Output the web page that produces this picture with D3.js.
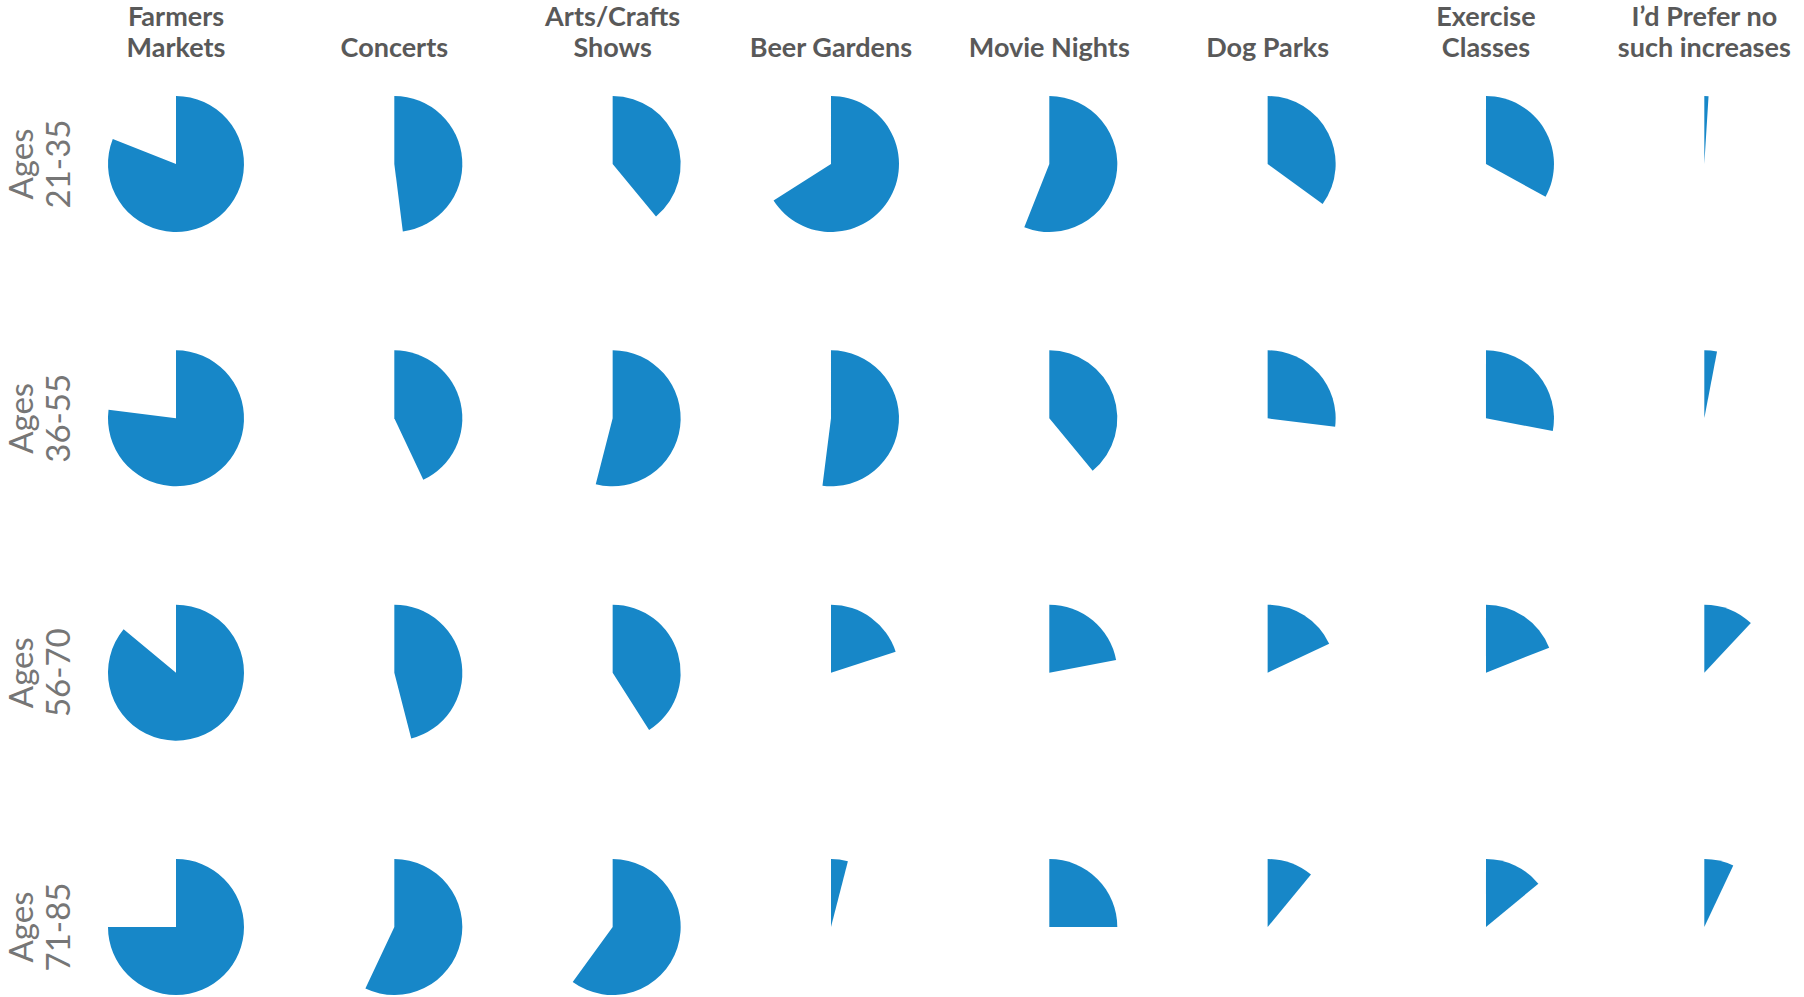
<!DOCTYPE html>
<html>
<head>
<meta charset="utf-8">
<script src="https://cdn.jsdelivr.net/npm/d3@7"></script>
<style>
  html, body { margin: 0; padding: 0; background: #ffffff; }
  svg { display: block; }
</style>
</head>
<body>
<svg id="chart" width="1804" height="997"></svg>
<script>
// Column categories (header lines)
const categories = [
  ["Farmers", "Markets"],
  ["Concerts"],
  ["Arts/Crafts", "Shows"],
  ["Beer Gardens"],
  ["Movie Nights"],
  ["Dog Parks"],
  ["Exercise", "Classes"],
  ["I\u2019d Prefer no", "such increases"]
];
// Row categories
const ageGroups = [["Ages", "21-35"], ["Ages", "36-55"], ["Ages", "56-70"], ["Ages", "71-85"]];
// Percent values per age group (one per category)
const ages21_35 = [81, 48, 39, 66, 56, 35, 33, 1];
const ages36_55 = [77, 43, 54, 52, 39, 27, 28, 3];
const ages56_70 = [86, 46, 41, 20, 22, 18, 19, 12];
const ages71_85 = [75, 57, 60, 4, 25, 11, 14, 7];
const seriesValues = [ages21_35, ages36_55, ages56_70, ages71_85];

const svg = d3.select("#chart");
const colKeys = categories.map((c, i) => i);
const rowKeys = ageGroups.map((r, i) => i);

const x = d3.scalePoint().domain(colKeys).range([176, 1704.3]);
const y = d3.scalePoint().domain(rowKeys).range([164, 927]);
const angle = d3.scaleLinear().domain([0, 100]).range([0, 2 * Math.PI]);
const radius = 68;
const arc = d3.arc().innerRadius(0).outerRadius(radius);

// Column headers
const headers = svg.append("g")
  .attr("font-family", "Lato, 'Open Sans', sans-serif")
  .attr("font-weight", 700)
  .attr("font-size", 27)
  .attr("fill", "#595959")
  .attr("text-anchor", "middle");
categories.forEach((lines, i) => {
  const t = headers.append("text").attr("x", x(i));
  const baseLast = 57.3;
  const lh = 31.3;
  lines.forEach((ln, j) => {
    t.append("tspan")
      .attr("x", x(i))
      .attr("y", baseLast - (lines.length - 1 - j) * lh)
      .text(ln);
  });
});

// Row labels (rotated)
const rowLabels = svg.append("g")
  .attr("font-family", "Lato, 'Open Sans', sans-serif")
  .attr("font-weight", 400)
  .attr("font-size", 33)
  .attr("fill", "#767676")
  .attr("text-anchor", "middle");
ageGroups.forEach((lines, i) => {
  const t = rowLabels.append("text")
    .attr("transform", `translate(0,${y(i)}) rotate(-90)`);
  lines.forEach((ln, j) => {
    t.append("tspan").attr("x", 0).attr("y", 32.5 + j * 37).text(ln);
  });
});

// Pies
const cells = [];
seriesValues.forEach((vals, r) => {
  vals.forEach((v, c) => cells.push({ r, c, v }));
});
svg.append("g").selectAll("path")
  .data(cells)
  .join("path")
  .attr("transform", d => `translate(${x(d.c)},${y(d.r)})`)
  .attr("d", d => arc({ startAngle: 0, endAngle: angle(d.v) }))
  .attr("fill", "#1787C8");
</script>
</body>
</html>
